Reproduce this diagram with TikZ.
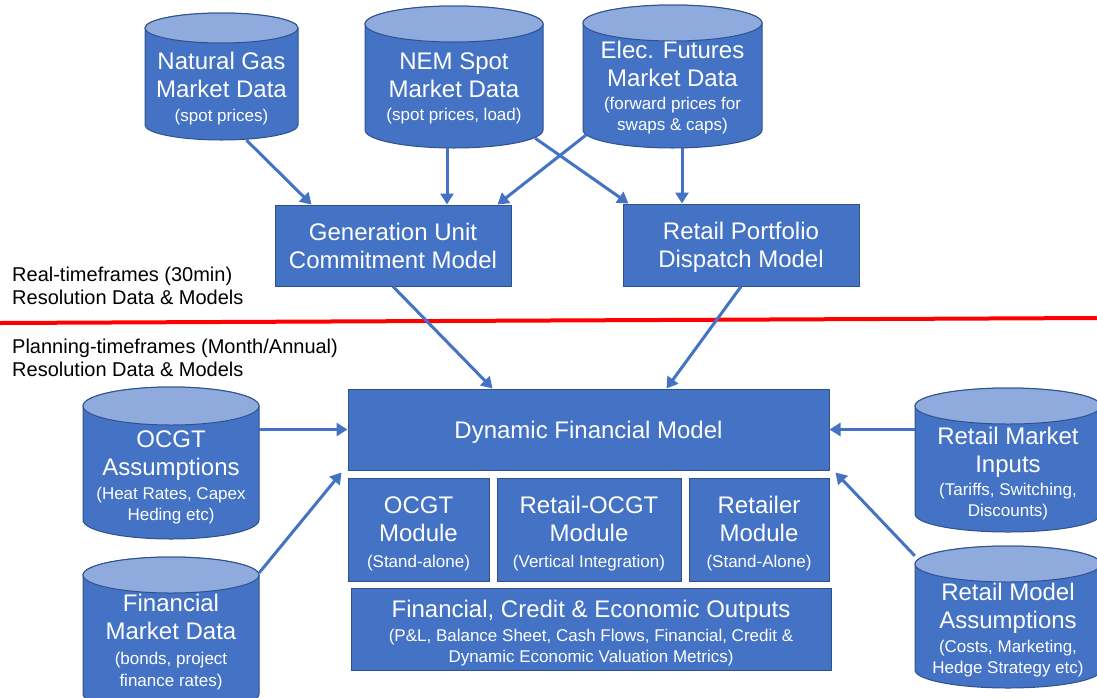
\documentclass[tikz,border=0pt]{standalone}
\usepackage{fontspec}
\setmainfont{Liberation Sans}
\usetikzlibrary{arrows.meta,calc}
\definecolor{boxblue}{HTML}{4472C4}
\definecolor{boxedge}{HTML}{2F528F}
\definecolor{toplight}{HTML}{8FAADC}
\newcommand\smtx[1]{{\fontsize{17}{21}\selectfont #1}}
\newcommand\lowerstrut{\rule{0pt}{26pt}}
% #1 name, #2 cx, #3 ytop, #4 ybot, #5 half width, #6 ellipse y radius
\newcommand\cylinderdb[6]{%
  \path[cylbody] (#2-#5,#3+#6) -- (#2-#5,#4-#6)
     arc[start angle=180,end angle=360,x radius=#5pt,y radius=#6pt]
     -- (#2+#5,#3+#6)
     arc[start angle=0,end angle=180,x radius=#5pt,y radius=#6pt] -- cycle;
  \path[cyltop] (#2,#3+#6) ellipse[x radius=#5pt,y radius=#6pt];
  \node[inner sep=0pt,minimum width=2*#5pt,minimum height=#4pt-#3pt] (#1) at (#2,{(#3+#4)/2}) {};
}
\begin{document}
\begin{tikzpicture}[x=1pt,y=-1pt,
  cylbody/.style={fill=boxblue,draw=boxedge,line width=1pt},
  cyltop/.style={fill=toplight,draw=boxedge,line width=1pt},
  box/.style={fill=boxblue,draw=boxedge,line width=1pt,text=white,align=center,
     font=\fontsize{24}{28}\selectfont,inner sep=0pt},
  txt/.style={text=white,align=center,font=\fontsize{24}{28}\selectfont,inner sep=0pt},
  lbl/.style={align=left,font=\fontsize{20}{23}\selectfont,inner sep=0pt,anchor=west},
  arr/.style={draw=boxblue,line width=3pt,-{Triangle[length=11pt,width=13pt]}},
  redline/.style={draw=red,line width=4pt}]
\useasboundingbox (0,0) rectangle (1097,697);
\clip (0,0) rectangle (1097,697);

% red separator
\coordinate (rl) at (0,323);
\coordinate (rr) at (1097,318);
\draw[redline] (rl) -- (rr);

% cylinders
\cylinderdb{ng}{221.5}{13}{140}{76.5}{15}
\node[txt] (ngt) at (221.5,88.5) {Natural Gas\\Market Data\\[-4pt]\smtx{(spot prices)}};
\cylinderdb{nem}{454}{6}{148}{89}{18}
\node[txt] (nemt) at (454,88) {NEM Spot\\Market Data\\[-5pt]\smtx{(spot prices, load)}};
\cylinderdb{elec}{672.5}{5}{148}{89.5}{18}
\node[txt] (elect) at (672.5,87.5) {Elec. Futures\\Market Data\\[-5pt]\smtx{(forward prices for}\\[-7pt]\smtx{swaps \& caps)}};
\cylinderdb{ocgta}{171}{387}{539}{88}{19}
\node[txt] (ocgtat) at (171,477) {OCGT\\Assumptions\\[-4pt]\smtx{(Heat Rates, Capex}\\[-7pt]\smtx{Heding etc)}};
\cylinderdb{finm}{171}{557}{712}{88}{18}
\node[txt] (finmt) at (171,642.5) {Financial\\Market Data\\[-3pt]\smtx{(bonds, project}\\[-6pt]\smtx{finance rates)}};
\cylinderdb{rmi}{1008}{388}{532}{93}{18}
\node[txt] (rmit) at (1008,473.5) {Retail Market\\Inputs\\[-5pt]\smtx{(Tariffs, Switching,}\\[-7pt]\smtx{Discounts)}};
\cylinderdb{rma}{1008}{546}{688}{93}{18}
\node[txt] (rmat) at (1008,630) {Retail Model\\Assumptions\\[-4pt]\smtx{(Costs, Marketing,}\\[-7pt]\smtx{Hedge Strategy etc)}};

% boxes
\node[box,minimum width=236pt,minimum height=81pt] (gen) at (393,245.5) {Generation Unit\\Commitment Model};
\node[box,minimum width=236pt,minimum height=82pt,text depth=0pt] (retail) at (741,245) {Retail Portfolio\\Dispatch Model};
\node[box,minimum width=481pt,minimum height=81pt,text depth=0pt] (dfm) at (588.5,429.5) {Dynamic Financial Model};
\node[box,minimum width=141pt,minimum height=103pt] (ocgtm) at (418.5,529.5) {\lowerstrut OCGT\\Module\\[-2pt]\smtx{(Stand-alone)}};
\node[box,minimum width=184pt,minimum height=103pt] (rocgt) at (589,529.5) {\lowerstrut Retail-OCGT\\Module\\[-2pt]\smtx{(Vertical Integration)}};
\node[box,minimum width=140pt,minimum height=103pt] (retailer) at (759,529.5) {\lowerstrut Retailer\\Module\\[-2pt]\smtx{(Stand-Alone)}};
\node[box,minimum width=480pt,minimum height=82pt] (finout) at (591,629) {\lowerstrut Financial, Credit \& Economic Outputs\\[-4pt]\smtx{(P\&L, Balance Sheet, Cash Flows, Financial, Credit \&}\\[-7pt]\smtx{Dynamic Economic Valuation Metrics)}};

% labels
\node[lbl] (rtlabel) at (12,285.5) {Real-timeframes (30min)\\Resolution Data \& Models};
\node[lbl] (pllabel) at (12,358) {Planning-timeframes (Month/Annual)\\Resolution Data \& Models};

% connectors
\draw[arr] ([xshift=25pt]ng.south) -- ([xshift=37pt]gen.north west);
\draw[arr] ([xshift=-7pt]nem.south) -- ([xshift=-7pt]nem.south |- gen.north);
\draw[arr] ([xshift=3pt,yshift=13pt]elec.south west) -- ([xshift=-14pt]gen.north east);
\draw[arr] ([xshift=-8pt,yshift=10pt]nem.south east) -- ([xshift=6pt]retail.north west);
\draw[arr] ([xshift=9.5pt]elec.south) -- ([xshift=9.5pt]elec.south |- retail.north);
\draw[arr] (gen.south) -- ([xshift=145pt]dfm.north west);
\draw[arr] (retail.south) -- ([xshift=-163pt]dfm.north east);
\draw[arr] (ocgta.east |- dfm.west) -- (dfm.west);
\draw[arr] ([yshift=-16pt]finm.north east) -- ([xshift=-6pt,yshift=-2pt]dfm.south west);
\draw[arr] (rmi.west |- dfm.east) -- (dfm.east);
\draw[arr] ([yshift=-10pt]rma.north west) -- ([xshift=6pt,yshift=-2pt]dfm.south east);
\end{tikzpicture}
\end{document}
